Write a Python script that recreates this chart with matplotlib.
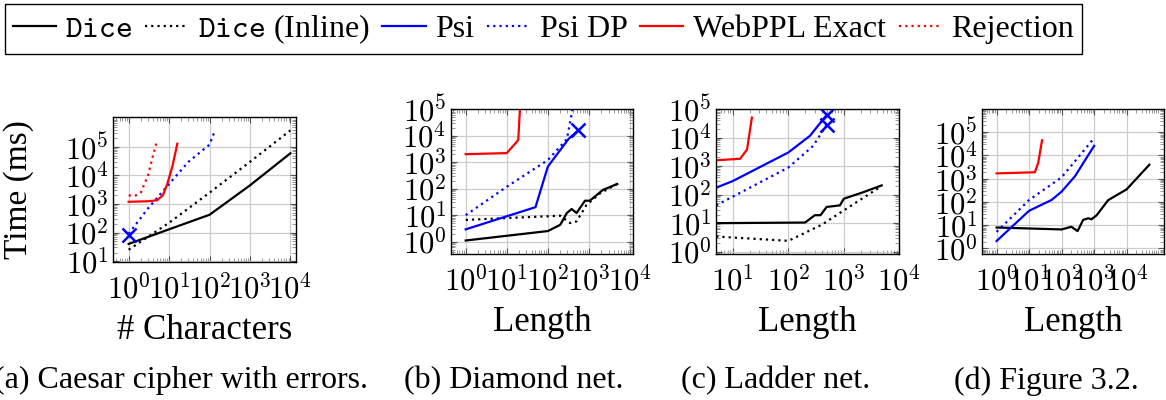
import matplotlib
matplotlib.use("Agg")
import matplotlib.pyplot as plt
import numpy as np

plt.rcParams['font.family'] = ['Liberation Serif', 'DejaVu Serif']
plt.rcParams['mathtext.fontset'] = 'cm'

# (a) Caesar cipher with errors
a_dice_x = [1, 10, 100, 1000, 10000]
a_dice_y = [40, 130, 420, 4500, 60000]
a_inline_x = [1, 10, 100, 1000, 10000]
a_inline_y = [25, 220, 2500, 30000, 380000]
a_psi_x = [1]
a_psi_y = [80]
a_psidp_x = [1, 3, 10, 30, 100, 128]
a_psidp_y = [90, 700, 5000, 30000, 120000, 300000]
a_web_x = [1, 3, 5, 7, 9, 12, 16]
a_web_y = [1200, 1250, 1350, 2000, 5000, 20000, 130000]
a_rej_x = [1, 1.5, 2, 3, 4, 5]
a_rej_y = [2000, 2000, 2500, 10000, 50000, 160000]

# (b) Diamond net
b_dice_x = [1, 100, 200, 290, 380, 500, 800, 1050, 2200, 4900]
b_dice_y = [1.1, 2.5, 4.3, 12, 17, 12, 35, 35, 90, 150]
b_inline_x = [1, 200, 350, 500, 870, 1850, 4900]
b_inline_y = [6.6, 9.5, 5, 5.8, 24, 66, 150]
b_psi_x = [1, 50, 100, 316, 550]
b_psi_y = [2.9, 20, 680, 7400, 16000]
b_psidp_x = [1, 10, 100, 290, 400]
b_psidp_y = [10, 118, 1200, 7400, 100000]
b_web_x = [1, 10, 19, 21]
b_web_y = [2000, 2200, 6800, 110000]

# (c) Ladder net
c_dice_x = [5, 200, 300, 380, 490, 850, 1000, 2200, 4800]
c_dice_y = [10, 10.5, 19, 19, 37, 42, 72, 120, 210]
c_inline_x = [5, 100, 400, 1000, 4800]
c_inline_y = [3.4, 2.4, 8.8, 28, 200]
c_psi_x = [5, 10, 100, 245, 490]
c_psi_y = [175, 300, 3000, 11500, 62000]
c_psidp_x = [5, 100, 280, 490]
c_psidp_y = [42, 890, 5100, 28000]
c_web_x = [5, 13.5, 18, 22]
c_web_y = [1600, 1800, 3800, 50000]

# (d) Figure 3.2
d_dice_x = [1, 100, 200, 310, 460, 660, 830, 1200, 2700, 10000, 50000]
d_dice_y = [8, 6.6, 8.6, 5.6, 17, 20, 18, 27, 120, 350, 4000]
d_psi_x = [1, 10, 49, 100, 260, 1000]
d_psi_y = [2.1, 42, 122, 280, 1300, 26000]
d_psidp_x = [1, 10, 100, 1000]
d_psidp_y = [5.2, 122, 1150, 56000]
d_web_x = [1, 15, 19, 25]
d_web_y = [1700, 1900, 4700, 45000]

legend_labels = [r'$\mathtt{Dice}$', r'$\mathtt{Dice}$ (Inline)', 'Psi', 'Psi DP',
                 'WebPPL Exact', 'Rejection']
captions = ['(a) Caesar cipher with errors.', '(b) Diamond net.',
            '(c) Ladder net.', '(d) Figure 3.2.']

LW = 1.6
DOT = (0, (1, 1.8))

fig = plt.figure(figsize=(11.66, 4.0), dpi=100)

axes_pos = [
    [0.0969, 0.345, 0.157, 0.3625],
    [0.3865, 0.365, 0.1566, 0.362],
    [0.6138, 0.365, 0.1575, 0.3625],
    [0.8420, 0.365, 0.1566, 0.3625],
]


def style(ax, xt, yt, xlim, ylim, xlabel):
    ax.set_xscale('log')
    ax.set_yscale('log')
    ax.set_xlim(*xlim)
    ax.set_ylim(*ylim)
    ax.set_xticks([10.0 ** k for k in xt])
    ax.set_xticklabels([r'$10^{%d}$' % k for k in xt])
    ax.set_yticks([10.0 ** k for k in yt])
    ax.set_yticklabels([r'$10^{%d}$' % k for k in yt])
    ax.xaxis.set_minor_locator(matplotlib.ticker.LogLocator(base=10, subs=np.arange(2, 10), numticks=20))
    ax.yaxis.set_minor_locator(matplotlib.ticker.LogLocator(base=10, subs=np.arange(2, 10), numticks=20))
    ax.xaxis.set_minor_formatter(matplotlib.ticker.NullFormatter())
    ax.yaxis.set_minor_formatter(matplotlib.ticker.NullFormatter())
    ax.tick_params(which='both', direction='in', top=True, right=True, labelsize=22)
    ax.tick_params(axis='x', pad=9)
    ax.tick_params(axis='y', pad=3)
    ax.tick_params(which='major', length=4, color='#555555')
    ax.tick_params(which='minor', length=3, color='#888888', width=0.6)
    ax.grid(True, which='major', color='#cccccc', lw=0.9)
    ax.set_axisbelow(True)
    ax.set_xlabel(xlabel, fontsize=25, labelpad=6)
    for s in ax.spines.values():
        s.set_linewidth(1.0)


def draw(ax, dice, inline, psi, psidp, web, rej, psi_end=True, psidp_end=False):
    h = []
    if dice is not None:
        h += ax.plot(dice[0], dice[1], color='black', lw=LW)
    else:
        h += ax.plot([], [], color='black', lw=LW)
    if inline is not None:
        h += ax.plot(inline[0], inline[1], color='black', lw=LW, ls=DOT)
    else:
        h += ax.plot([], [], color='black', lw=LW, ls=DOT)
    h += ax.plot(psi[0], psi[1], color='blue', lw=LW)
    if psi_end:
        ax.plot(psi[0][-1], psi[1][-1], marker='x', color='blue', ms=10, mew=1.8)
    h += ax.plot(psidp[0], psidp[1], color='blue', lw=LW, ls=DOT)
    if psidp_end:
        ax.plot(psidp[0][-1], psidp[1][-1], marker='x', color='blue', ms=10, mew=1.8)
    h += ax.plot(web[0], web[1], color='red', lw=LW)
    if rej is not None:
        h += ax.plot(rej[0], rej[1], color='red', lw=LW, ls=DOT)
    else:
        h += ax.plot([], [], color='red', lw=LW, ls=DOT)
    return h


ax = fig.add_axes(axes_pos[0])
handles = draw(ax, (a_dice_x, a_dice_y), (a_inline_x, a_inline_y), (a_psi_x, a_psi_y),
               (a_psidp_x, a_psidp_y), (a_web_x, a_web_y), (a_rej_x, a_rej_y))
style(ax, [0, 1, 2, 3, 4], [1, 2, 3, 4, 5], (0.41, 1.38e4), (9.3, 1.12e6), '# Characters')
ax.set_ylabel('Time (ms)', fontsize=24, labelpad=22)

ax = fig.add_axes(axes_pos[1])
draw(ax, (b_dice_x, b_dice_y), (b_inline_x, b_inline_y), (b_psi_x, b_psi_y),
     (b_psidp_x, b_psidp_y), (b_web_x, b_web_y), None)
style(ax, [0, 1, 2, 3, 4], [0, 1, 2, 3, 4, 5], (0.43, 1.2e4), (0.34, 1e5), 'Length')

ax = fig.add_axes(axes_pos[2])
draw(ax, (c_dice_x, c_dice_y), (c_inline_x, c_inline_y), (c_psi_x, c_psi_y),
     (c_psidp_x, c_psidp_y), (c_web_x, c_web_y), None, psidp_end=True)
style(ax, [1, 2, 3, 4], [0, 1, 2, 3, 4, 5], (4.9, 1e4), (0.83, 1e5), 'Length')

ax = fig.add_axes(axes_pos[3])
draw(ax, (d_dice_x, d_dice_y), None, (d_psi_x, d_psi_y),
     (d_psidp_x, d_psidp_y), (d_web_x, d_web_y), None, psi_end=False)
style(ax, [0, 1, 2, 3, 4], [0, 1, 2, 3, 4, 5], (0.35, 1.45e5), (0.58, 1e6), 'Length')

leg = fig.legend(handles, legend_labels, loc='upper left', bbox_to_anchor=(0.004, 0.99),
                 ncol=6, fontsize=23, frameon=True, fancybox=False, edgecolor='black',
                 framealpha=1, handlelength=1.35, handletextpad=0.3, columnspacing=0.4,
                 borderpad=0.25, borderaxespad=0)
leg.get_frame().set_linewidth(1.0)

cap_x = [-0.005, 0.3465, 0.584, 0.818]
for cx, c in zip(cap_x, captions):
    fig.text(cx, 0.048, c, fontsize=23, ha='left', va='center')

fig.savefig('out.png', dpi=100)
